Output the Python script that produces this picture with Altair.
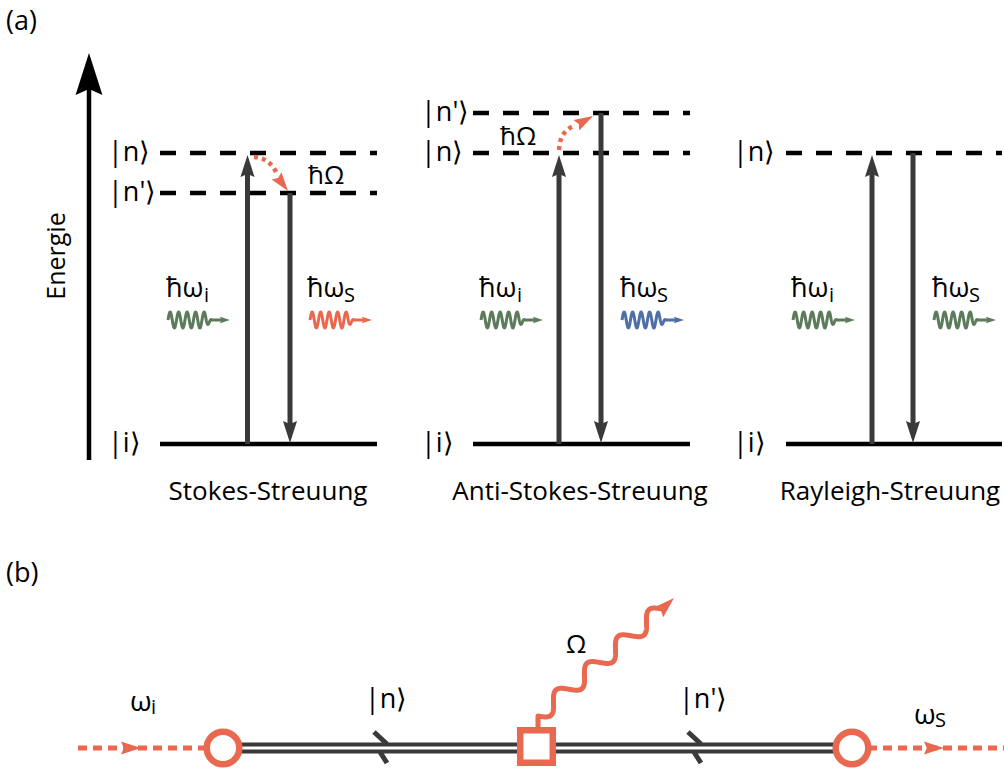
import altair as alt
import numpy as np
import pandas as pd

W, H = 1004, 769
FONT = "Open Sans"
BLACK = "#000000"
DARK = "#3a3a3a"
ORANGE = "#e8694f"
GREEN = "#5b7b5b"
BLUE = "#4f6fa6"

# ---------------- (a) geometry ----------------
panel_x0 = [160, 473, 786]
panel_x1 = [377, 690, 1002]
ground_y = [444, 444, 444]
dash_panel = [0, 0, 1, 1, 2]
dash_y = [153, 193, 113, 153, 153]
trans_x = [247.5, 290, 559, 601, 872, 913]
trans_from = [444, 193, 444, 113, 444, 153]
trans_to = [153, 444, 153, 444, 153, 444]
energy_x = [89]
energy_y = [460, 53]

# photon squiggles: start x, y, colour
photon_x = [168, 310, 481, 622, 793, 934]
photon_y = [320, 320, 320, 320, 320, 320]
photon_c = [GREEN, ORANGE, GREEN, BLUE, GREEN, GREEN]

# dotted phonon arrows (start, control, end of curve, tip, head angle)
curve_p0 = [(254, 157), (559, 150)]
curve_p1 = [(270, 158), (560, 131)]
curve_p2 = [(277, 174), (574, 126)]
curve_tip = [(288, 191), (593, 116)]
curve_ang = [143, 61]

# ---------------- (b) geometry ----------------
dline_x = [225, 852]
dline_y = [744.5, 751.5]
vertex_x = [223, 852]
vertex_y = [748, 748]
square_x = [536.5]
square_y = [746.5]
ext_x0 = [78, 868]
ext_x1 = [205, 1004]
ext_y = [748, 748]
ext_tip = [141, 944]
slash_x = [387, 701]
omega_start = (538, 727)
omega_mid = (538, 716)
omega_end = (662, 609)
omega_tip = (674, 598)

# ---------------- texts ----------------
left_text = ["(a)", "(b)",
             "|n⟩", "|n'⟩", "|i⟩",
             "|n'⟩", "|n⟩", "|i⟩",
             "|n⟩", "|i⟩",
             "ħΩ", "ħΩ",
             "ħω", "ħω", "ħω", "ħω", "ħω", "ħω",
             "i", "S", "i", "S", "i", "S",
             "ω", "i", "|n⟩", "|n'⟩", "Ω", "ω", "S"]
left_x = [6, 6,
          108, 108, 108,
          421, 421, 421,
          733, 733,
          308, 500,
          166, 307, 479, 620, 791, 932,
          204, 344, 517, 657, 829, 969,
          130, 151, 365, 679, 566, 914, 935]
left_y = [22, 574,
          153, 193, 444,
          113, 153, 444,
          153, 444,
          176, 137,
          289, 289, 289, 289, 289, 289,
          296, 296, 296, 296, 296, 296,
          703, 708, 700, 700, 645, 716, 721]
left_s = [27, 27,
          27, 27, 27,
          27, 27, 27,
          27, 27,
          26, 26,
          27, 27, 27, 27, 27, 27,
          20, 20, 20, 20, 20, 20,
          28, 20, 27, 27, 26, 28, 20]

center_text = ["Stokes-Streuung", "Anti-Stokes-Streuung", "Rayleigh-Streuung"]
center_x = [268, 580, 890]
center_y = [492, 492, 492]

# ---------------- build tables ----------------
HEAD = "M0,-1L0.64,1L0,0.72L-0.64,1Z"

heads = []


def add_head(tx, ty, ang, length, color):
    a = np.deg2rad(ang)
    dx, dy = np.sin(a), -np.cos(a)
    heads.append(dict(x=tx - dx * length / 2, y=ty - dy * length / 2,
                      size=length ** 2, angle=ang, c=color))


levels = pd.DataFrame(dict(x=panel_x0, x2=panel_x1, y=ground_y))
dashed = pd.DataFrame(dict(x=[panel_x0[p] for p in dash_panel],
                           x2=[panel_x1[p] for p in dash_panel], y=dash_y))

shafts = []
for x, y0, y1 in zip(trans_x, trans_from, trans_to):
    up = y1 < y0
    tip = y1 + (2 if up else -1)
    L = 22
    base = tip + (L - 4 if up else -(L - 4))
    shafts.append(dict(x=x, y=y0, y2=base))
    add_head(x, tip, 0 if up else 180, L, DARK)
shafts = pd.DataFrame(shafts)

energy = pd.DataFrame(dict(x=energy_x, y=[energy_y[0]], y2=[energy_y[1] + 30]))
add_head(energy_x[0], energy_y[1], 0, 42, BLACK)

# squiggles
wl = []
for i, (x0, y0, c) in enumerate(zip(photon_x, photon_y, photon_c)):
    xs = np.linspace(0, 44, 140)
    env = np.clip((44 - xs) / 7, 0, 1)
    ys = -8 * np.sin(2 * np.pi * xs / 8.5) * env
    for k, (a, b) in enumerate(zip(xs, ys)):
        wl.append(dict(id=f"p{i}", k=k, x=x0 + a, y=y0 + b, c=c, w=3))
    wl.append(dict(id=f"p{i}", k=200, x=x0 + 56, y=y0, c=c, w=3))
    add_head(x0 + 62, y0, 90, 10, c)
waves = pd.DataFrame(wl)

# omega squiggle (b)
ol = []
sx, sy = omega_start
mx, my = omega_mid
ex, ey = omega_end
ol.append(dict(k=0, x=sx, y=sy))
vx, vy = ex - mx, ey - my
ln = np.hypot(vx, vy)
ux, uy = vx / ln, vy / ln
nx, ny = -uy, ux
ts = np.linspace(0, 1, 300)
for k, t in enumerate(ts):
    off = 8 * np.sin(2 * np.pi * 4.0 * t)
    ol.append(dict(k=k + 1, x=mx + vx * t + nx * off, y=my + vy * t + ny * off))
ol.append(dict(k=400, x=omega_tip[0] - 8, y=omega_tip[1] + 8))
add_head(omega_tip[0], omega_tip[1], 47, 21, ORANGE)
owave = pd.DataFrame(ol)

# dotted curves
cl = []
for i, (p0, p1, p2, tip, ang) in enumerate(zip(curve_p0, curve_p1, curve_p2, curve_tip, curve_ang)):
    for k, t in enumerate(np.linspace(0, 1, 40)):
        x = (1 - t) ** 2 * p0[0] + 2 * (1 - t) * t * p1[0] + t ** 2 * p2[0]
        y = (1 - t) ** 2 * p0[1] + 2 * (1 - t) * t * p1[1] + t ** 2 * p2[1]
        cl.append(dict(id=i, k=k, x=x, y=y))
    add_head(tip[0], tip[1], ang, 19, ORANGE)
curves = pd.DataFrame(cl)

# (b) lines
dlines = pd.DataFrame(dict(x=[dline_x[0]] * 2, x2=[dline_x[1]] * 2, y=dline_y))
ext = pd.DataFrame(dict(x=ext_x0, x2=ext_x1, y=ext_y))
for t, y in zip(ext_tip, ext_y):
    add_head(t, y, 90, 20, ORANGE)
sl = []
for xc in slash_x:
    sl.append(dict(x=xc - 13, y=732, x2=xc, y2=744))
    sl.append(dict(x=xc - 7, y=752, x2=xc, y2=763))
slashes = pd.DataFrame(sl)
verts = pd.DataFrame(dict(x=vertex_x, y=vertex_y))
squares = pd.DataFrame(dict(x=square_x, y=square_y))
heads = pd.DataFrame(heads)

ltext = pd.DataFrame(dict(t=left_text, x=left_x, y=left_y, s=left_s))
ctext = pd.DataFrame(dict(t=center_text, x=center_x, y=center_y))
etext = pd.DataFrame(dict(t=["Energie"], x=[57], y=[256]))

# ---------------- encodings ----------------
XS = alt.Scale(domain=[0, W], range=[0, W], nice=False, zero=False)
YS = alt.Scale(domain=[0, H], range=[0, H], nice=False, zero=False)


def X(f="x"):
    return alt.X(f"{f}:Q", scale=XS, axis=None)


def Y(f="y"):
    return alt.Y(f"{f}:Q", scale=YS, axis=None)


lay = []
lay.append(alt.Chart(levels).mark_rule(color=BLACK, strokeWidth=4.5, strokeCap="butt")
           .encode(x=X(), x2="x2:Q", y=Y()))
lay.append(alt.Chart(dashed).mark_rule(color=BLACK, strokeWidth=4.5, strokeDash=[16, 14], strokeCap="butt")
           .encode(x=X(), x2="x2:Q", y=Y()))
lay.append(alt.Chart(shafts).mark_rule(color=DARK, strokeWidth=5, strokeCap="butt")
           .encode(x=X(), y=Y(), y2="y2:Q"))
lay.append(alt.Chart(energy).mark_rule(color=BLACK, strokeWidth=4.5, strokeCap="butt")
           .encode(x=X(), y=Y(), y2="y2:Q"))
lay.append(alt.Chart(waves).mark_line(strokeWidth=3, strokeJoin="round")
           .encode(x=X(), y=Y(), detail="id:N", order="k:Q", color=alt.Color("c:N", scale=None)))
lay.append(alt.Chart(owave).mark_line(strokeWidth=5, strokeJoin="round", color=ORANGE)
           .encode(x=X(), y=Y(), order="k:Q"))
lay.append(alt.Chart(curves).mark_line(strokeWidth=4.5, strokeDash=[4, 4], color=ORANGE)
           .encode(x=X(), y=Y(), detail="id:N", order="k:Q"))
lay.append(alt.Chart(dlines).mark_rule(color=DARK, strokeWidth=4, strokeCap="butt")
           .encode(x=X(), x2="x2:Q", y=Y()))
lay.append(alt.Chart(slashes).mark_rule(color=DARK, strokeWidth=5, strokeCap="butt")
           .encode(x=X(), y=Y(), x2="x2:Q", y2="y2:Q"))
lay.append(alt.Chart(ext).mark_rule(color=ORANGE, strokeWidth=5, strokeDash=[9, 6], strokeCap="butt")
           .encode(x=X(), x2="x2:Q", y=Y()))
lay.append(alt.Chart(heads).mark_point(shape=HEAD, filled=True, opacity=1, strokeWidth=0)
           .encode(x=X(), y=Y(), size=alt.Size("size:Q", scale=None),
                   angle=alt.Angle("angle:Q", scale=None), color=alt.Color("c:N", scale=None)))
lay.append(alt.Chart(verts).mark_point(shape="circle", filled=False, fill="white", stroke=ORANGE,
                                       strokeWidth=6.5, size=1060, opacity=1)
           .encode(x=X(), y=Y()))
lay.append(alt.Chart(squares).mark_point(shape="square", filled=False, fill="white", stroke=ORANGE,
                                         strokeWidth=6.5, size=1060, opacity=1)
           .encode(x=X(), y=Y()))
lay.append(alt.Chart(ltext).mark_text(font=FONT, align="left", baseline="middle", color=BLACK)
           .encode(x=X(), y=Y(), text="t:N", size=alt.Size("s:Q", scale=None)))
lay.append(alt.Chart(ctext).mark_text(font=FONT, align="center", baseline="middle", color=BLACK, fontSize=26)
           .encode(x=X(), y=Y(), text="t:N"))
lay.append(alt.Chart(etext).mark_text(font=FONT, align="center", baseline="middle", color=BLACK,
                                      fontSize=25, angle=270)
           .encode(x=X(), y=Y(), text="t:N"))

chart = alt.layer(*lay).properties(
    width=W, height=H, padding=0, autosize=alt.AutoSizeParams(type="none"), background="white"
).configure_view(stroke=None)

chart.save("out.html", embed_options={"renderer": "svg", "actions": False})
